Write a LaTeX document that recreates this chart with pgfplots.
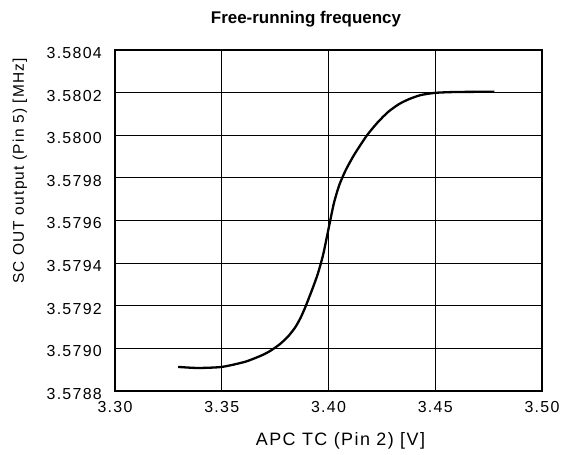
\documentclass[border=0pt]{standalone}
\usepackage{pgfplots}
\pgfplotsset{compat=1.18}
\usepackage{fontspec}
\setmainfont{Liberation Sans}
\newfontfamily\tickfont[LetterSpace=8]{Liberation Sans}
\newfontfamily\labfont[LetterSpace=8]{Liberation Sans}
\begin{document}
\begin{tikzpicture}[x=1bp,y=1bp]
\begin{axis}[
  name=ax,
  scale only axis,
  width=427bp, height=341bp,
  xmin=3.30, xmax=3.50,
  ymin=3.5788, ymax=3.5804,
  xtick={3.30,3.35,3.40,3.45,3.50},
  xticklabels={3.30,3.35,3.40,3.45,3.50},
  ytick={3.5788,3.5790,3.5792,3.5794,3.5796,3.5798,3.5800,3.5802,3.5804},
  yticklabels={3.5788,3.5790,3.5792,3.5794,3.5796,3.5798,3.5800,3.5802,3.5804},
  scaled ticks=false,
  major tick length=0pt,
  grid=major,
  major grid style={black, line width=1bp},
  axis line style={black, line width=1.4bp},
  tick label style={font=\tickfont\fontsize{16}{18}\selectfont, inner sep=0pt},
  xticklabel style={anchor=north, yshift=-10bp},
  yticklabel style={anchor=east, xshift=-13bp, yshift=-3bp},
  clip=false,
]
\addplot[black, line width=2.3bp, smooth, tension=0.4] table {
x y
3.3296 3.578913
3.3387 3.578908
3.3500 3.578913
3.3609 3.578937
3.3689 3.578968
3.3730 3.578990
3.3770 3.579018
3.3810 3.579055
3.3845 3.579100
3.3870 3.579145
3.3892 3.579195
3.3925 3.579280
3.3950 3.579350
3.3975 3.579440
3.4000 3.579560
3.4025 3.579680
3.4050 3.579765
3.4080 3.579835
3.4120 3.579908
3.4179 3.579998
3.4230 3.580060
3.4280 3.580110
3.4330 3.580146
3.4374 3.580168
3.4430 3.580188
3.4500 3.580199
3.4600 3.580203
3.4777 3.580204
};
\end{axis}
\node[font=\labfont\fontsize{15.5}{17}\selectfont, rotate=90, anchor=base] at (-91bp,220bp) {SC OUT output (Pin 5) [MHz]};
\node[font=\labfont\fontsize{18}{20}\selectfont, anchor=base] at (225.5bp,-54.7bp) {APC TC (Pin 2) [V]};
\node[font=\bfseries\fontsize{17}{19}\selectfont, anchor=base] at (191bp,367bp) {Free-running frequency};
\pgfresetboundingbox
\path (-115bp,-64bp) rectangle (447bp,391bp);
\end{tikzpicture}
\end{document}
